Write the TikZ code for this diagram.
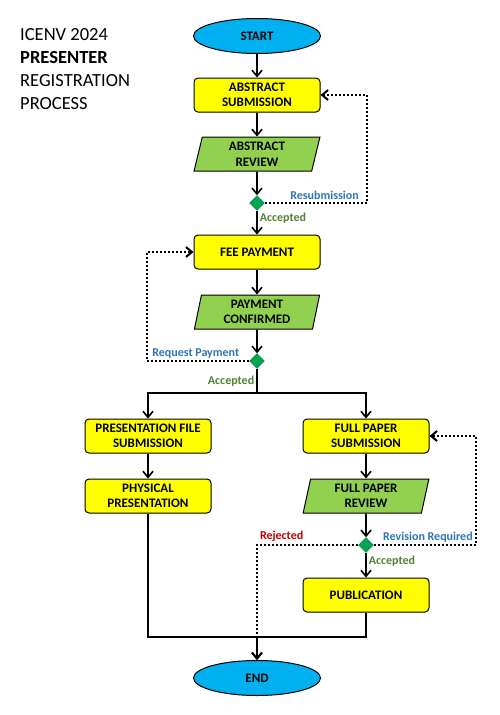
\documentclass[tikz,border=0pt]{standalone}
\usepackage{fontspec}
\setmainfont{Carlito}
\usetikzlibrary{shapes.geometric,arrows.meta}
\definecolor{boxyellow}{HTML}{FFFF00}
\definecolor{termblue}{HTML}{00B0F0}
\definecolor{iogreen}{HTML}{92D050}
\definecolor{decgreen}{HTML}{00A651}
\definecolor{labblue}{HTML}{2E75B6}
\definecolor{labgreen}{HTML}{548235}
\definecolor{labred}{HTML}{C00000}
\begin{document}
\begin{tikzpicture}[x=1pt, y=-1pt,
    txt/.style={font=\bfseries\fontsize{13}{15.5}\selectfont, align=center, inner sep=0pt},
    proc/.style={txt, draw, line width=1pt, rounded corners=4pt, fill=boxyellow,
        minimum width=126pt, minimum height=34pt},
    term/.style={txt, draw, line width=1pt, ellipse, fill=termblue,
        minimum width=127pt, minimum height=35pt},
    io/.style={txt, draw, line width=1pt, trapezium, trapezium left angle=80,
        trapezium right angle=100, trapezium stretches=true, fill=iogreen,
        minimum width=126pt, minimum height=34pt},
    dec/.style={diamond, draw=decgreen!70!black, fill=decgreen, inner sep=0pt,
        minimum size=15pt},
    arr/.style={line width=1.6pt, -{Straight Barb[length=6pt, width=10pt]}},
    line/.style={line width=1.6pt},
    fb/.style={line width=2pt, dash pattern=on 2pt off 2pt,
        -{Straight Barb[length=6pt, width=10pt]}},
    lab/.style={font=\bfseries\fontsize{12}{13}\selectfont, inner sep=2pt}]
\useasboundingbox (0,0) rectangle (500,715);

\node[anchor=north west, align=left, inner sep=0pt,
    font=\fontsize{18.5}{23}\selectfont] (title) at (20,28)
    {ICENV 2024\\\textbf{PRESENTER}\\REGISTRATION\\PROCESS};

\node[term] (start) at (257,36) {START};
\node[proc] (abs) at (257,95) {ABSTRACT\\SUBMISSION};
\node[io] (absrev) at (257,154) {ABSTRACT\\REVIEW};
\node[dec] (d1) at (257,203) {};
\node[proc] (fee) at (257,252) {FEE PAYMENT};
\node[io] (paid) at (257,312) {PAYMENT\\CONFIRMED};
\node[dec] (d2) at (257,361) {};
\coordinate (split) at (257,393);
\node[proc] (pfile) at (148,436) {PRESENTATION FILE\\SUBMISSION};
\node[proc] (phys) at (148,496) {PHYSICAL\\PRESENTATION};
\node[proc] (fps) at (366,436) {FULL PAPER\\SUBMISSION};
\node[io] (fpr) at (366,496) {FULL PAPER\\REVIEW};
\node[dec] (d3) at (366,545) {};
\node[proc] (pub) at (366,595) {PUBLICATION};
\coordinate (join) at (257,637);
\node[term] (end) at (257,678) {END};

% main flow
\draw[arr] (start) -- (abs);
\draw[arr] (abs) -- (absrev);
\draw[arr] (absrev) -- (d1);
\draw[arr] (d1) -- node[pos=0.3, right, lab, labgreen]{Accepted} (fee);
\draw[arr] (fee) -- (paid);
\draw[arr] (paid) -- (d2);
\draw[line] (d2) -- node[midway, left, lab, labgreen]{Accepted} (split);
\draw[arr] (split) -| (pfile);
\draw[arr] (split) -| (fps);
\draw[arr] (pfile) -- (phys);
\draw[arr] (fps) -- (fpr);
\draw[arr] (fpr) -- (d3);
\draw[arr] (d3) -- node[pos=0.35, right, lab, labgreen]{Accepted} (pub);

% loops back
\draw[fb] (d1.east) -- node[pos=1, above left, xshift=-5pt, lab, labblue]{Resubmission}
    ++(102,0) |- (abs.east);
\draw[fb] (d2.west) -- node[pos=1, above right, xshift=2pt, lab, labblue]{Request Payment}
    ++(-102,0) |- (fee.west);
\draw[fb] (d3.east) -- node[pos=1, above left, lab, labblue]{Revision Required}
    ++(102,0) |- (fps.east);
\draw[fb] (d3.west) -| node[pos=0.5, above right, lab, labred]{Rejected} (end);

% to the end
\draw[line] (phys) |- (pub |- join) -- (pub);
\draw[arr] (join) -- (end);
\end{tikzpicture}
\end{document}
